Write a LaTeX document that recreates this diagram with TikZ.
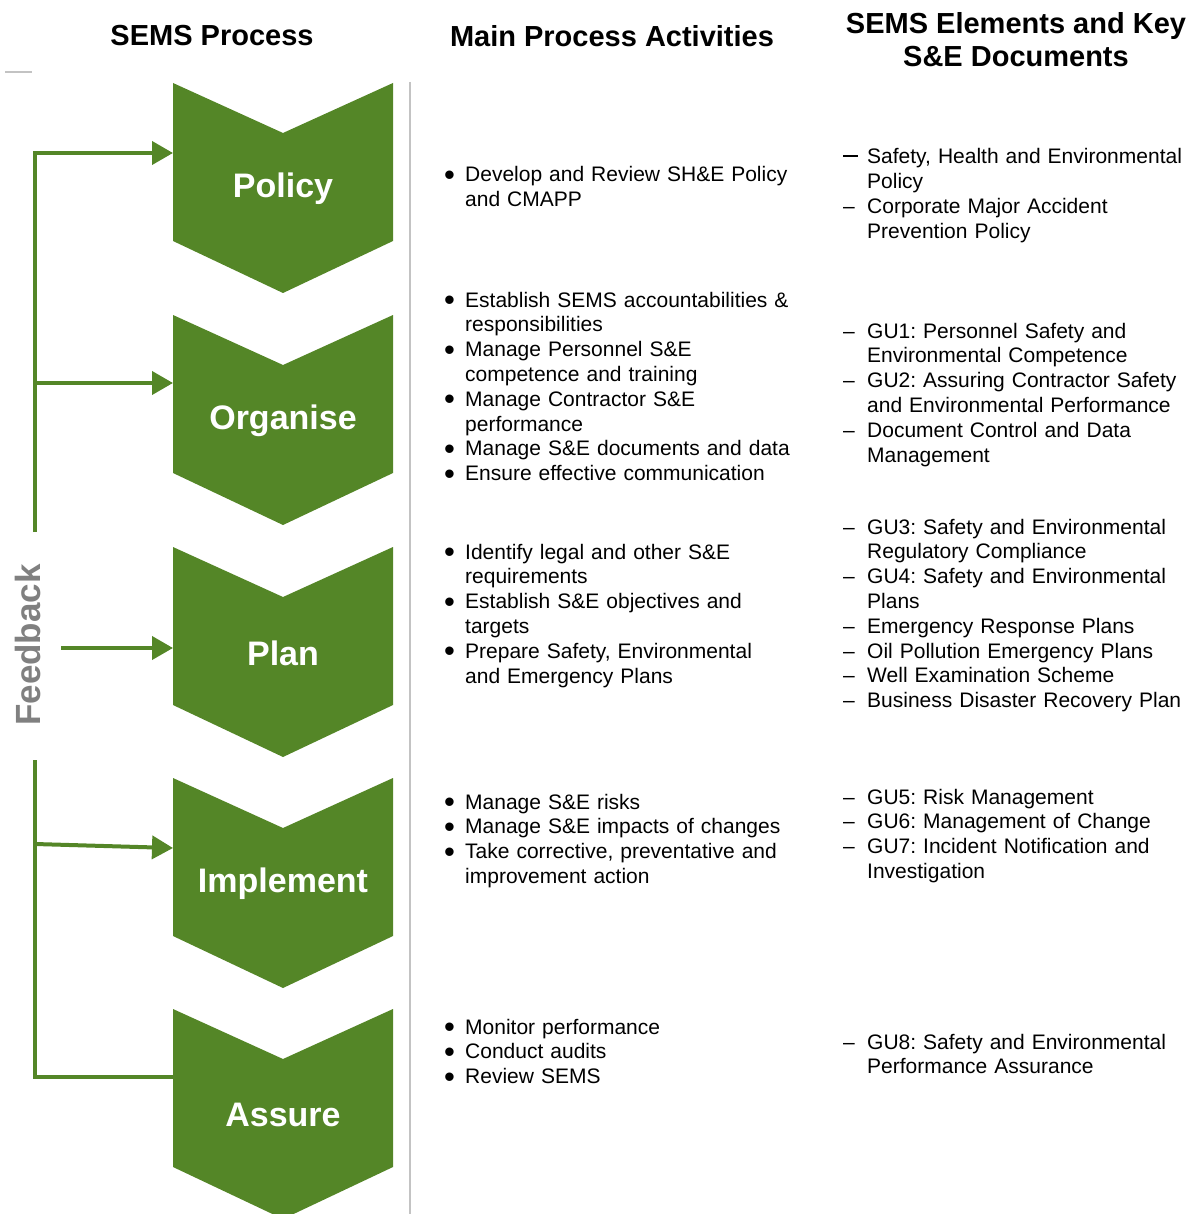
\documentclass[tikz,border=0pt]{standalone}
\usepackage{fontspec}
\setmainfont{Liberation Sans}
\usetikzlibrary{arrows.meta}
\definecolor{semsgreen}{RGB}{84,134,39}
\definecolor{fbgray}{RGB}{128,128,128}
\definecolor{sepgray}{RGB}{195,195,195}
\newcommand{\bigbullet}{\smash{\raisebox{-3.5pt}{\fontsize{31}{31}\selectfont\textbullet}}}
\newcommand{\actitem}[1]{\noindent\hangindent=21pt\hangafter=1\makebox[21pt][l]{\bigbullet}#1\par}
\newcommand{\docitem}[2][\textendash]{\noindent\hangindent=24pt\hangafter=1\makebox[24pt][l]{#1}#2\par}
\newcommand{\longdash}{\rule[7pt]{15pt}{2pt}}
\frenchspacing
\begin{document}
\begin{tikzpicture}[x=1pt,y=-1pt,>=latex,
	chevlabel/.style={text=white,font=\bfseries\fontsize{34}{34}\selectfont,inner sep=0pt},
	head/.style={font=\bfseries\fontsize{29}{33}\selectfont,align=center,inner sep=0pt},
	acts/.style={anchor=base west,inner sep=0pt,text width=350pt,align=left,font=\frenchspacing\fontsize{21}{24.8}\selectfont},
	fbline/.style={draw=semsgreen,line width=4pt},
	fbarrow/.style={fbline,-{Triangle[length=21pt,width=23pt]}}]
	\useasboundingbox (0,0) rectangle (1192,1214);
	% column heads
	\node[head] (hproc) at (212,36) {SEMS Process};
	\node[head] (hact)  at (612,36) {Main Process Activities};
	\node[head] (hdoc)  at (1016,40) {SEMS Elements and Key\\S\&E Documents};
	\draw[sepgray,line width=2pt] (5,72) -- (32,72);
	\draw[sepgray,line width=2pt] (410,82) -- (410,1214);
	% process chevrons
	\foreach \name/\lbl/\top/\iny in {policy/Policy/83/153, organise/Organise/315/383, plan/Plan/547/648, implement/Implement/778/848, assure/Assure/1009/1077}{
		\fill[semsgreen] (173,\top) -- (283,\top+50) -- (393,\top) -- (393,\top+158) -- (283,\top+210) -- (173,\top+158) -- cycle;
		\node[chevlabel] (\name) at (283,\top+106) {\lbl};
		\coordinate (\name-in) at (173,\iny);
	}
	% feedback loop
	\coordinate (fbtop)  at (35,153);
	\coordinate (fbgap1) at (35,532);
	\coordinate (fbgap2) at (35,760);
	\coordinate (fbbot)  at (35,1077);
	\coordinate (fborg)  at (35,383);
	\coordinate (fbplan) at (61,648);
	\coordinate (fbimp)  at (35,844);
	\draw[fbarrow] (fbgap1) -- (fbtop) -- (policy-in);
	\draw[fbarrow] (fborg) -- (organise-in);
	\draw[fbarrow] (fbplan) -- (plan-in);
	\draw[fbarrow] (fbimp) -- (implement-in);
	\draw[fbline] (fbgap2) -- (fbbot) -- (assure-in);
	\node[rotate=90,anchor=base,inner sep=0pt,text=fbgray,font=\bfseries\fontsize{35}{35}\selectfont] (fb) at (40,645) {Feedback};
	% main activities
	\node[acts] (actpolicy) at (444,182) {\actitem{Develop and Review SH\&E Policy\newline and CMAPP}};
	\node[acts] (actorg) at (444,307) {\actitem{Establish SEMS accountabilities \&\newline responsibilities}
		\actitem{Manage Personnel S\&E\newline competence and training}
		\actitem{Manage Contractor S\&E\newline performance}
		\actitem{Manage S\&E documents and data}
		\actitem{Ensure effective communication}};
	\node[acts] (actplan) at (444,559) {\actitem{Identify legal and other S\&E\newline requirements}
		\actitem{Establish S\&E objectives and\newline targets}
		\actitem{Prepare Safety, Environmental\newline and Emergency Plans}};
	\node[acts] (actimp) at (444,809) {\actitem{Manage S\&E risks}
		\actitem{Manage S\&E impacts of changes}
		\actitem{Take corrective, preventative and\newline improvement action}};
	\node[acts] (actassure) at (444,1034) {\actitem{Monitor performance}
		\actitem{Conduct audits}
		\actitem{Review SEMS}};
	% elements and documents
	\node[acts] (docpolicy) at (843,164) {\docitem[\longdash]{Safety, Health and Environmental\newline Policy}
		\docitem{Corporate Major Accident\newline Prevention Policy}};
	\node[acts] (docorg) at (843,338) {\docitem{GU1: Personnel Safety and\newline Environmental Competence}
		\docitem{GU2: Assuring Contractor Safety\newline and Environmental Performance}
		\docitem{Document Control and Data\newline Management}};
	\node[acts] (docplan) at (843,534) {\docitem{GU3: Safety and Environmental\newline Regulatory Compliance}
		\docitem{GU4: Safety and Environmental\newline Plans}
		\docitem{Emergency Response Plans}
		\docitem{Oil Pollution Emergency Plans}
		\docitem{Well Examination Scheme}
		\docitem{Business Disaster Recovery Plan}};
	\node[acts] (docimp) at (843,804) {\docitem{GU5: Risk Management}
		\docitem{GU6: Management of Change}
		\docitem{GU7: Incident Notification and\newline Investigation}};
	\node[acts] (docassure) at (843,1049) {\docitem{GU8: Safety and Environmental\newline Performance Assurance}};
\end{tikzpicture}
\end{document}
